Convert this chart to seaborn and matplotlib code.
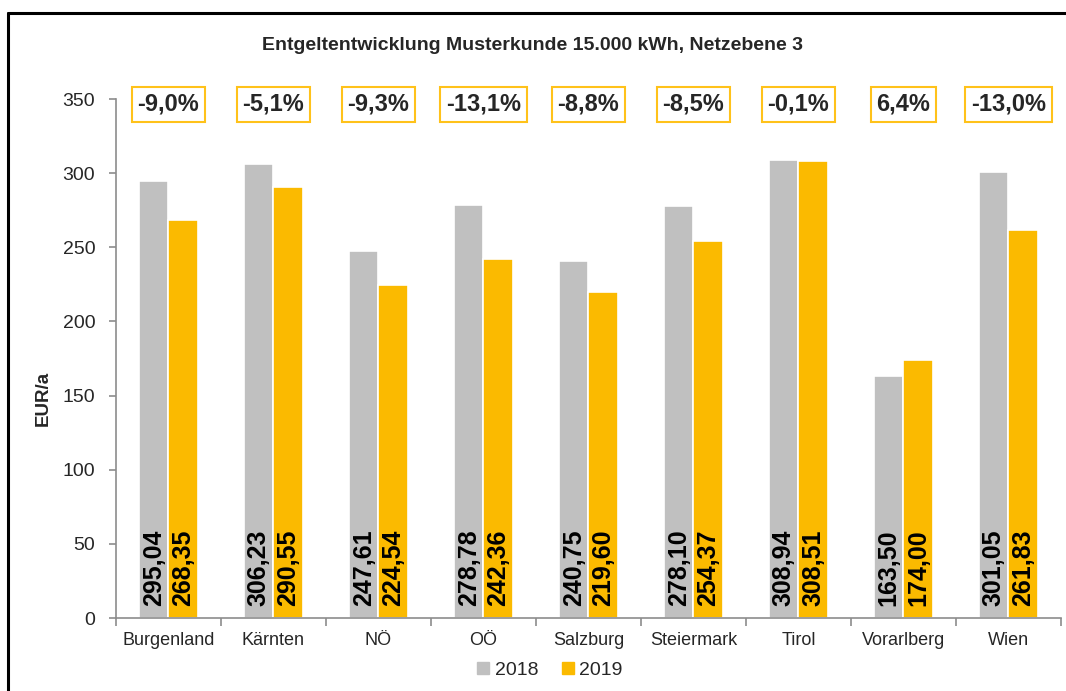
import matplotlib
matplotlib.use("Agg")
import matplotlib.pyplot as plt
import matplotlib.lines as mlines
import pandas as pd
import seaborn as sns

regions = ["Burgenland", "Kärnten", "NÖ", "OÖ", "Salzburg", "Steiermark",
           "Tirol", "Vorarlberg", "Wien"]
values_2018 = [295.04, 306.23, 247.61, 278.78, 240.75, 278.10, 308.94, 163.50, 301.05]
values_2019 = [268.35, 290.55, 224.54, 242.36, 219.60, 254.37, 308.51, 174.00, 261.83]
changes = ["-9,0%", "-5,1%", "-9,3%", "-13,1%", "-8,8%", "-8,5%", "-0,1%", "6,4%", "-13,0%"]
years = ["2018", "2019"]

GRAY = "#C0C0C0"
YELLOW = "#FBBA00"


def main():
    sns.set_theme(style="white")
    plt.rcParams["font.family"] = ["Liberation Sans", "DejaVu Sans"]

    df = pd.DataFrame({
        "region": regions * 2,
        "year": [years[0]] * len(regions) + [years[1]] * len(regions),
        "value": values_2018 + values_2019,
    })

    fig = plt.figure(figsize=(10.66, 6.91), dpi=100)
    ax = fig.add_axes([0.1088, 0.1056, 0.8865, 0.7511])

    sns.barplot(df, x="region", y="value", hue="year", order=regions,
                hue_order=years, palette=[GRAY, YELLOW], width=0.56,
                edgecolor="white", linewidth=1.2, saturation=1, legend=False, ax=ax)

    ax.set_ylim(0, 350)
    ax.set_xlim(-0.5, len(regions) - 0.5)
    ax.set_yticks(range(0, 351, 50))
    ax.set_ylabel("EUR/a", fontsize=13.5, fontweight="bold")
    ax.yaxis.set_label_coords(-0.068, 0.424)
    ax.set_xlabel("")

    for s in ["top", "right"]:
        ax.spines[s].set_visible(False)
    for s in ["left", "bottom"]:
        ax.spines[s].set_color("#8C8C8C")
        ax.spines[s].set_linewidth(1.2)

    ax.tick_params(axis="y", length=5, width=1.2, color="#8C8C8C", pad=10,
                   labelsize=14, left=True)
    ax.tick_params(axis="x", which="major", length=0, pad=10, labelsize=13)
    ax.set_xticks([i - 0.5 for i in range(len(regions) + 1)], minor=True)
    ax.tick_params(axis="x", which="minor", length=6, width=1.2,
                   color="#8C8C8C", bottom=True)

    # value labels inside the bars
    for cont in ax.containers:
        for bar in cont:
            x = bar.get_x() + bar.get_width() / 2
            ax.text(x, 8, f"{bar.get_height():.2f}".replace(".", ","),
                    rotation=90, ha="center", va="bottom", fontsize=18,
                    fontweight="bold", color="black")

    # percentage change boxes
    for i, txt in enumerate(changes):
        ax.text(i, 346.5, txt, ha="center", va="center", fontsize=17,
                fontweight="bold", clip_on=False,
                bbox=dict(boxstyle="square,pad=0.25", fc="white",
                          ec="#FFC21A", lw=1.5))

    fig.suptitle("Entgeltentwicklung Musterkunde 15.000 kWh, Netzebene 3",
                 x=0.5, y=1 - 45 / 691, va="center", fontsize=14,
                 fontweight="bold")

    handles = [mlines.Line2D([], [], marker="s", color=c, linestyle="none",
                             markersize=8) for c in (GRAY, YELLOW)]
    fig.legend(handles, years, loc="center", ncol=2, frameon=False,
               bbox_to_anchor=(548 / 1066, 1 - 670 / 691), fontsize=14,
               handletextpad=0.1, columnspacing=1.0, handlelength=1.0)

    # outer frame (left and top)
    fig.add_artist(mlines.Line2D([8 / 1066, 8 / 1066], [0, 1 - 13 / 691],
                                 color="black", lw=2.2))
    fig.add_artist(mlines.Line2D([8 / 1066, 1], [1 - 13 / 691, 1 - 13 / 691],
                                 color="black", lw=2.2))

    fig.savefig("out.png", dpi=100)


if __name__ == "__main__":
    main()
